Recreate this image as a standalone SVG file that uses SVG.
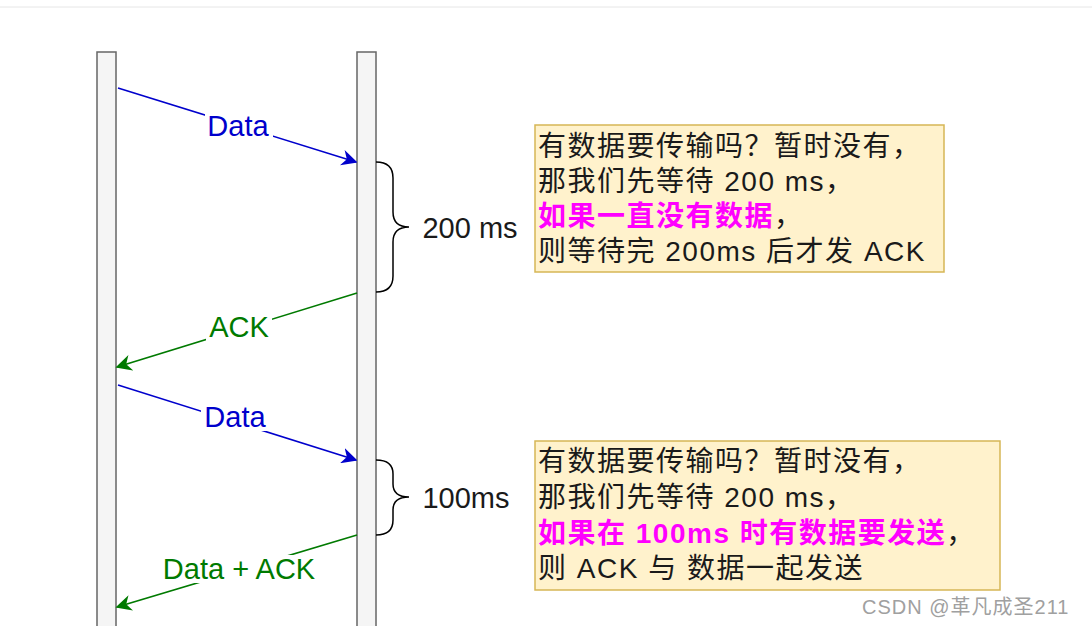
<svg xmlns="http://www.w3.org/2000/svg" width="1092" height="626" viewBox="0 0 1092 626">
<style>
.life{fill:#f5f5f5;stroke:#666;stroke-width:1.5}
.blue{stroke:#0000cc;stroke-width:1.6;fill:none}
.green{stroke:#007a00;stroke-width:1.6;fill:none}
.brace{stroke:#000;stroke-width:1.5;fill:none}
.lbl{font-family:"Liberation Sans","Noto Sans CJK SC",sans-serif;font-size:29px;text-anchor:middle}
.bt{font-family:"Liberation Sans","Noto Sans CJK SC",sans-serif;font-size:28px;letter-spacing:1.5px;fill:#1a1a1a}
.note{fill:#fff2cc;stroke:#d6b656;stroke-width:1.5}
.hl{fill:#ff00ff;font-weight:bold}
</style>
<defs>
<marker id="ab" viewBox="0 0 10 10" refX="9" refY="5" markerWidth="16" markerHeight="16" markerUnits="userSpaceOnUse" orient="auto"><path d="M0,0 L10,5 L0,10 L3,5 z" fill="#0000cc"/></marker>
<marker id="ag" viewBox="0 0 10 10" refX="9" refY="5" markerWidth="16" markerHeight="16" markerUnits="userSpaceOnUse" orient="auto"><path d="M0,0 L10,5 L0,10 L3,5 z" fill="#007a00"/></marker>
</defs>
<rect width="1092" height="626" fill="#fff"/>
<line x1="0" y1="7" x2="1092" y2="7" stroke="#e6e6e6" stroke-width="1"/>
<g id="lifeline-left"><rect class="life" x="97" y="52" width="19" height="590"/></g>
<g id="lifeline-right"><rect class="life" x="357" y="52" width="19" height="590"/></g>
<g id="connectors">
<line class="blue" x1="118" y1="88" x2="356" y2="162" marker-end="url(#ab)"/>
<rect x="205" y="112" width="68" height="28" fill="#fff"/>
<text class="lbl" x="238" y="136" fill="#0000cc">Data</text>
<line class="green" x1="357" y1="293" x2="117" y2="367" marker-end="url(#ag)"/>
<rect x="206" y="313" width="66" height="28" fill="#fff"/>
<text class="lbl" x="239" y="337" fill="#007a00">ACK</text>
<line class="blue" x1="118" y1="385" x2="356" y2="460" marker-end="url(#ab)"/>
<rect x="201" y="403" width="68" height="28" fill="#fff"/>
<text class="lbl" x="235" y="427" fill="#0000cc">Data</text>
<line class="green" x1="357" y1="535" x2="117" y2="607" marker-end="url(#ag)"/>
<rect x="156" y="555" width="166" height="28" fill="#fff"/>
<text class="lbl" x="239" y="579" fill="#007a00">Data + ACK</text>
</g>
<g id="brace-200">
<path class="brace" d="M376,162 Q393,162 393,178 L393,212 Q393,227 409,227 Q393,227 393,242 L393,276 Q393,292 376,292"/>
<text class="lbl" x="470" y="238" fill="#1a1a1a">200 ms</text>
</g>
<g id="brace-100">
<path class="brace" d="M376,460 Q393,460 393,474 L393,484 Q393,497 409,497 Q393,497 393,510 L393,520 Q393,535 376,535"/>
<text class="lbl" x="466" y="508" fill="#1a1a1a">100ms</text>
</g>
<g id="note-1">
<rect class="note" x="535" y="125" width="409" height="147"/>
<text class="bt" x="538" y="156">有数据要传输吗？暂时没有，</text>
<text class="bt" x="538" y="191">那我们先等待 200 ms，</text>
<text class="bt" x="538" y="226"><tspan class="hl">如果一直没有数据</tspan>，</text>
<text class="bt" x="538" y="261">则等待完 200ms 后才发 ACK</text>
</g>
<g id="note-2">
<rect class="note" x="535" y="441" width="465" height="149"/>
<text class="bt" x="538" y="471">有数据要传输吗？暂时没有，</text>
<text class="bt" x="538" y="507">那我们先等待 200 ms，</text>
<text class="bt" x="538" y="543"><tspan class="hl">如果在 100ms 时有数据要发送</tspan>，</text>
<text class="bt" x="538" y="578">则 ACK 与 数据一起发送</text>
</g>
<text x="862" y="614" font-family="Liberation Sans,'Noto Sans CJK SC',sans-serif" font-size="20" letter-spacing="1" fill="#a0a0a0">CSDN @革凡成圣211</text>
</svg>
